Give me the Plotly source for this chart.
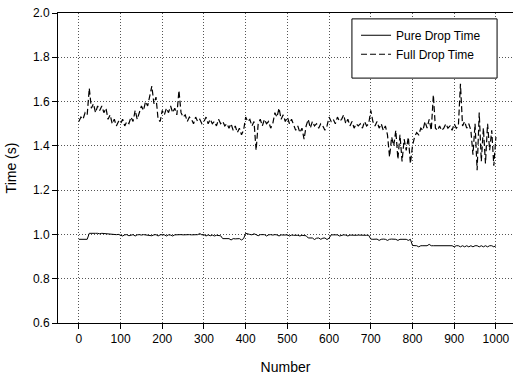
import plotly.graph_objects as go

# sample numbers (every 5th drop)
number = list(range(0, 1001, 5))

# Full Drop Time (s)
full_drop = [
    1.51, 1.53, 1.52, 1.55, 1.54, 1.66, 1.57, 1.59, 1.55, 1.58, 1.56, 1.58, 1.55, 1.57, 1.52, 1.54, 1.50, 1.52, 1.49, 1.51,
    1.50, 1.52, 1.49, 1.51, 1.50, 1.53, 1.51, 1.56, 1.52, 1.55, 1.58, 1.56, 1.60, 1.58, 1.63, 1.67, 1.59, 1.62, 1.52, 1.51,
    1.56, 1.54, 1.57, 1.55, 1.58, 1.55, 1.57, 1.54, 1.65, 1.55, 1.53, 1.54, 1.51, 1.53, 1.52, 1.50, 1.53, 1.51, 1.52, 1.50,
    1.51, 1.53, 1.50, 1.52, 1.50, 1.51, 1.49, 1.52, 1.50, 1.51, 1.49, 1.50, 1.48, 1.50, 1.47, 1.49, 1.46, 1.48, 1.45, 1.47,
    1.53, 1.51, 1.52, 1.49, 1.51, 1.38, 1.50, 1.52, 1.49, 1.52, 1.50, 1.51, 1.48, 1.50, 1.55, 1.53, 1.57, 1.52, 1.54, 1.51,
    1.53, 1.50, 1.52, 1.49, 1.47, 1.49, 1.46, 1.48, 1.43, 1.49, 1.52, 1.48, 1.51, 1.49, 1.50, 1.48, 1.50, 1.49, 1.47, 1.49,
    1.53, 1.51, 1.52, 1.50, 1.53, 1.51, 1.52, 1.54, 1.50, 1.52, 1.49, 1.51, 1.48, 1.50, 1.49, 1.50, 1.48, 1.51, 1.49, 1.50,
    1.56, 1.51, 1.49, 1.51, 1.48, 1.50, 1.47, 1.49, 1.45, 1.35, 1.44, 1.40, 1.47, 1.34, 1.45, 1.33, 1.43, 1.38, 1.44, 1.32,
    1.40, 1.44, 1.46, 1.45, 1.48, 1.47, 1.51, 1.48, 1.52, 1.47, 1.63, 1.48, 1.47, 1.49, 1.47, 1.48, 1.50, 1.48, 1.49, 1.47,
    1.50, 1.48, 1.49, 1.68, 1.49, 1.51, 1.48, 1.50, 1.47, 1.36, 1.50, 1.29, 1.55, 1.33, 1.48, 1.32, 1.50, 1.38, 1.47, 1.31,
    1.44,
]

# Pure Drop Time (s)
pure_drop = [
    0.978, 0.978, 0.977, 0.978, 0.978,
    1.005, 1.006, 1.004, 1.005, 1.005, 1.003, 1.005, 1.004, 1.002, 1.004, 1.003, 1.002,
    1.000, 0.999, 1.000, 0.998, 0.993, 0.998, 0.999, 0.994, 0.998, 0.999,
    0.993, 0.998, 0.999, 0.997, 0.999, 0.998, 0.999, 0.997, 0.994, 0.998,
    0.999, 0.993, 0.998, 0.999, 0.998, 0.993, 0.998, 0.997, 0.993, 0.998,
    0.999, 0.997, 0.999, 0.998, 0.999, 0.998, 0.999, 0.998, 0.999, 0.998,
    0.999, 1.004, 0.998, 0.999, 0.993, 0.998, 0.994, 0.997, 0.993, 0.996,
    0.995, 0.994,
    0.981, 0.980, 0.981, 0.981, 0.975, 0.981, 0.980, 0.981, 0.981, 0.975, 0.981,
    1.005, 1.004, 1.000, 0.998, 1.003, 0.999, 0.994, 0.999, 0.998, 0.999,
    0.993, 0.998, 0.999, 0.997, 0.999, 0.998, 0.993, 0.998, 0.997, 0.999,
    0.998, 0.993, 0.997, 0.996, 0.997, 0.996, 0.993, 0.996, 0.995, 0.994,
    0.984, 0.983, 0.984, 0.977, 0.983, 0.984, 0.978, 0.983, 0.984, 0.977, 0.983,
    0.998, 0.999, 0.998, 0.998, 0.993, 0.997, 0.998, 0.997, 0.993, 0.997,
    0.996, 0.997, 0.996, 0.997, 0.996, 0.996, 0.997, 0.996, 0.996,
    0.979, 0.978, 0.979, 0.979, 0.973, 0.978, 0.979, 0.978, 0.973, 0.978,
    0.979, 0.978, 0.978, 0.973, 0.978, 0.978, 0.979, 0.978, 0.973, 0.978,
    0.950, 0.949, 0.949, 0.944, 0.949, 0.949, 0.950, 0.949, 0.955, 0.949,
    0.949, 0.949, 0.949, 0.949, 0.949, 0.949, 0.949, 0.949, 0.949, 0.949,
    0.944, 0.949, 0.949, 0.944, 0.949, 0.944, 0.949, 0.944, 0.949, 0.944,
    0.949, 0.949, 0.944, 0.949, 0.944, 0.949, 0.944, 0.949, 0.949, 0.944,
    0.949,
]

x_ticks = [0, 100, 200, 300, 400, 500, 600, 700, 800, 900, 1000]
y_ticks = [0.6, 0.8, 1.0, 1.2, 1.4, 1.6, 1.8, 2.0]

FONT = "Liberation Sans, Arial, sans-serif"

fig = go.Figure()
fig.add_trace(go.Scatter(x=number, y=pure_drop, mode="lines", name="Pure Drop Time",
                         line=dict(color="black", width=1)))
fig.add_trace(go.Scatter(x=number, y=full_drop, mode="lines", name="Full Drop Time",
                         line=dict(color="black", width=1.2, dash="6px,3px")))

grid = dict(showgrid=True, gridcolor="#555555", gridwidth=1, griddash="1px,2px")

fig.update_layout(
    width=513, height=378,
    margin=dict(l=58, r=0, t=13, b=55),
    paper_bgcolor="white", plot_bgcolor="white",
    font=dict(family=FONT, size=12, color="black"),
    showlegend=True,
    legend=dict(x=0.655, y=0.975, xanchor="left", yanchor="top",
                bgcolor="rgba(0,0,0,0)", borderwidth=0,
                font=dict(family=FONT, size=12), tracegroupgap=0),
    xaxis=dict(range=[-50, 1041], tickvals=x_ticks, ticks="outside", ticklen=5,
               tickcolor="black", showline=True, linecolor="black", linewidth=1,
               mirror=True, zeroline=False,
               title=dict(text="Number", font=dict(size=14), standoff=16), **grid),
    yaxis=dict(range=[0.6, 2.0], tickvals=y_ticks, tickformat=".1f", ticks="outside",
               ticklen=5, tickcolor="black", showline=True, linecolor="black",
               linewidth=1, zeroline=False,
               title=dict(text="Time (s)", font=dict(size=14), standoff=13), **grid),
    shapes=[dict(type="rect", xref="paper", yref="paper", x0=0.646, x1=0.965,
                 y0=0.790, y1=0.981, line=dict(color="black", width=1),
                 fillcolor="white", layer="above")],
)

fig.write_html("out.html")
